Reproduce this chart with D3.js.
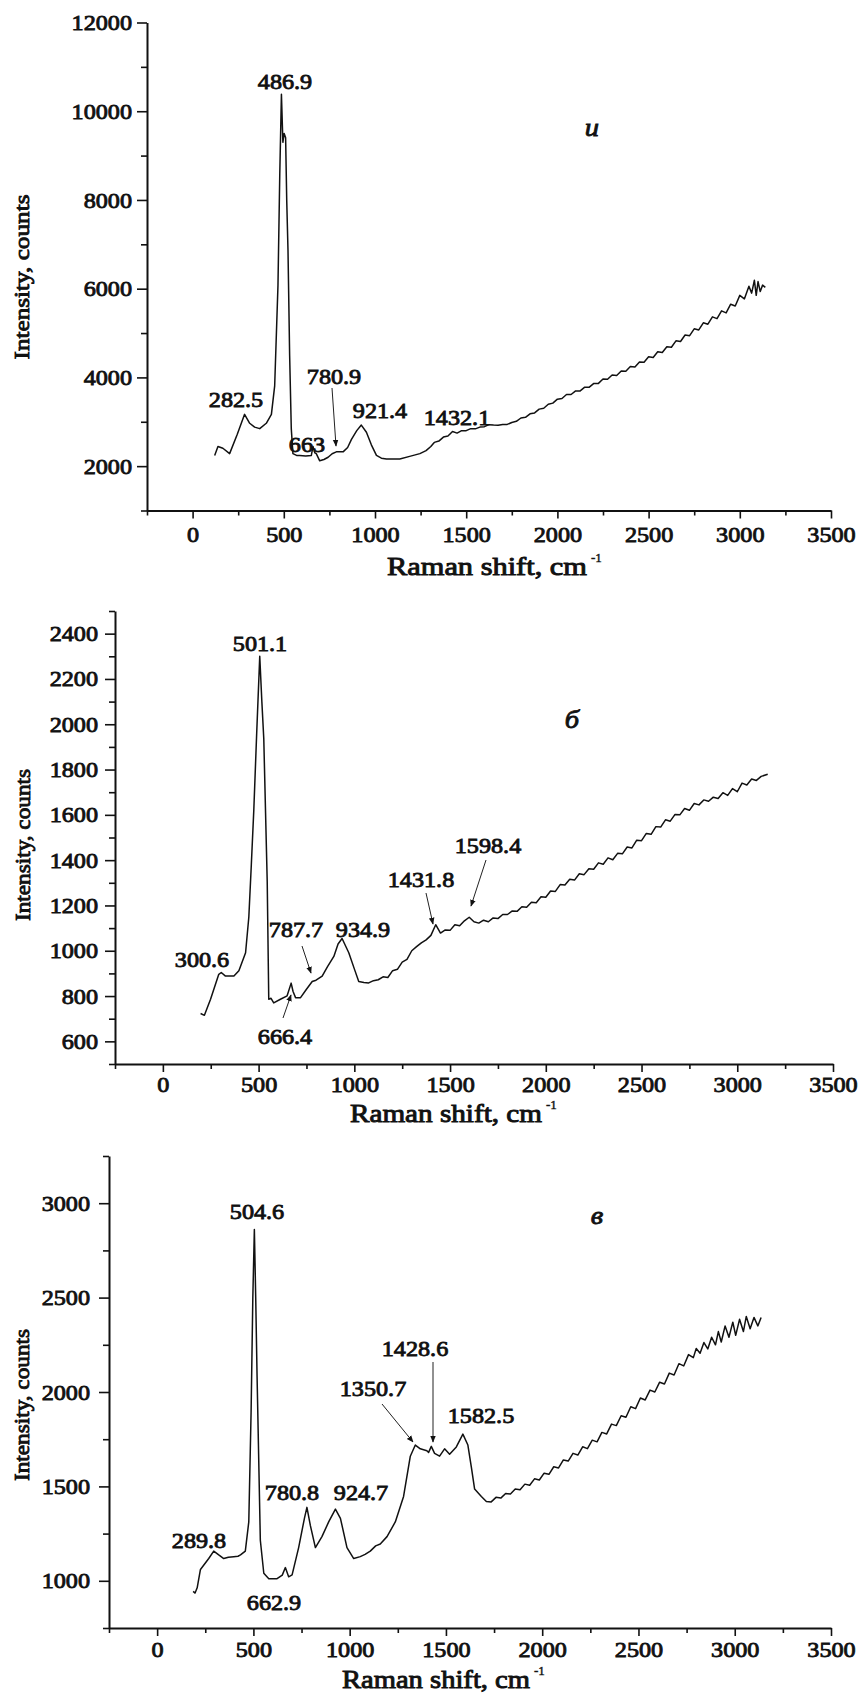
<!DOCTYPE html>
<html>
<head>
<meta charset="utf-8">
<script src="https://cdn.jsdelivr.net/npm/d3@7"></script>
<style>
body { margin: 0; background: #fff; }
</style>
</head>
<body>
<script>
// Raman spectra, three panels (и, б, в)
// each spectrum is [shift cm-1, intensity counts]

var xTicks = [0, 500, 1000, 1500, 2000, 2500, 3000, 3500];
var xMinor = [-250, 250, 750, 1250, 1750, 2250, 2750, 3250];

var yTicksA = [2000, 4000, 6000, 8000, 10000, 12000];
var yMinorA = [1000, 3000, 5000, 7000, 9000, 11000];
var yTicksB = [600, 800, 1000, 1200, 1400, 1600, 1800, 2000, 2200, 2400];
var yMinorB = [500, 700, 900, 1100, 1300, 1500, 1700, 1900, 2100, 2300, 2500];
var yTicksC = [1000, 1500, 2000, 2500, 3000];
var yMinorC = [750, 1250, 1750, 2250, 2750, 3250];

var peaksA = ["486.9", "282.5", "780.9", "921.4", "663", "1432.1"];
var peaksB = ["501.1", "300.6", "787.7", "934.9", "666.4", "1431.8", "1598.4"];
var peaksC = ["504.6", "289.8", "662.9", "780.8", "924.7", "1350.7", "1428.6", "1582.5"];

var spectrumA = [
  [121,2241],[139,2443],[166,2403],[203,2282],[245,2720],[285,3167],[313,2966],[340,2880],
  [368,2845],[404,2966],[432,3167],[450,3811],[468,6065],[478,8600],[487,10380],[495,9300],
  [502,9500],[510,9400],[516,8000],[523,6870],[532,4500],[541,2845],[550,2282],[570,2241],
  [587,2241],[620,2230],[651,2241],[660,2443],[670,2300],[678,2282],[697,2120],[720,2150],
  [743,2200],[765,2280],[788,2322],[825,2322],[850,2420],[871,2604],[900,2800],[925,2925],
  [953,2765],[980,2480],[1008,2241],[1035,2180],[1063,2161],[1100,2160],[1136,2161],[1190,2220],
  [1246,2282],[1280,2350],[1306,2443],
  [1325,2535],[1350,2565],[1375,2655],[1400,2680],[1425,2780],[1450,2745],[1475,2800],[1500,2800],
  [1525,2845],[1550,2840],[1575,2880],[1600,2890],[1625,2935],[1650,2925],[1675,2920],[1700,2940],
  [1725,2940],[1750,2985],[1775,3010],[1800,3085],[1825,3100],[1850,3180],[1875,3200],[1900,3285],
  [1925,3305],[1950,3395],[1975,3420],[2000,3510],[2025,3525],[2050,3615],[2075,3615],[2100,3695],
  [2125,3695],[2150,3780],[2175,3780],[2200,3865],[2225,3865],[2250,3965],[2275,3960],[2300,4055],
  [2325,4045],[2350,4145],[2375,4140],[2400,4245],[2425,4235],[2450,4350],[2475,4340],[2500,4465],
  [2525,4450],[2550,4580],[2575,4560],[2600,4690],[2625,4680],[2650,4825],[2675,4810],[2700,4955],
  [2725,4940],[2750,5095],[2775,5070],[2800,5230],[2825,5200],[2850,5365],[2875,5325],[2900,5500],
  [2925,5455],[2950,5650],[2975,5610],[3000,5850],[3025,5770],[3050,6055],[3065,5900],[3080,6190],
  [3090,5850],[3100,6160],[3112,5935],[3125,6080],[3140,6030]
];

var spectrumB = [
  [197,723],[217,715],[249,786],[292,896],[305,904],[327,888],[371,888],[397,912],
  [432,991],[449,1149],[462,1380],[475,1622],[490,1960],[506,2300],[517,2100],[527,1937],
  [545,1306],[553,786],[565,790],[579,770],[614,786],[649,801],[670,857],[680,820],
  [693,793],[719,793],[750,830],[780,864],[800,870],[832,888],[860,930],[893,975],
  [915,1030],[936,1054],[971,991],[1000,920],[1023,864],
  [1050,860],[1075,858],[1100,868],[1125,872],[1150,885],[1175,882],[1200,912],[1225,918],
  [1250,950],[1275,962],[1300,1000],[1325,1018],[1350,1035],[1375,1048],[1400,1068],[1425,1115],
  [1450,1078],[1475,1092],[1500,1090],[1525,1115],[1550,1110],[1575,1132],[1600,1148],[1625,1128],
  [1650,1122],[1675,1135],[1700,1128],[1725,1145],[1750,1142],[1775,1160],[1800,1160],[1825,1176],
  [1850,1174],[1875,1194],[1900,1192],[1925,1214],[1950,1212],[1975,1238],[2000,1236],[2025,1264],
  [2050,1262],[2075,1292],[2100,1290],[2125,1316],[2150,1312],[2175,1340],[2200,1336],[2225,1362],
  [2250,1360],[2275,1388],[2300,1382],[2325,1410],[2350,1402],[2375,1430],[2400,1428],[2425,1458],
  [2450,1454],[2475,1488],[2500,1486],[2525,1518],[2550,1514],[2575,1548],[2600,1546],[2625,1578],
  [2650,1572],[2675,1602],[2700,1600],[2725,1628],[2750,1620],[2775,1650],[2800,1644],[2825,1666],
  [2850,1660],[2875,1678],[2900,1672],[2925,1698],[2950,1686],[2975,1716],[3000,1702],[3025,1740],
  [3050,1732],[3075,1758],[3100,1752],[3125,1770],[3159,1779]
];

var spectrumC = [
  [187,944],[197,935],[208,963],[225,1060],[268,1118],[294,1157],[320,1137],[346,1118],
  [370,1125],[398,1128],[420,1130],[433,1137],[458,1157],[476,1312],[488,1893],[497,2500],
  [505,2861],[512,2500],[519,2087],[536,1215],[554,1040],[580,1011],[623,1011],[650,1030],
  [666,1070],[683,1021],[701,1031],[735,1176],[765,1331],[778,1389],[796,1292],[822,1176],
  [856,1234],[891,1312],[926,1380],[952,1331],[986,1176],[1021,1118],[1055,1128],[1080,1140],
  [1107,1157],[1135,1185],[1159,1195],[1194,1234],[1237,1312],[1280,1447],[1315,1660],[1341,1719],
  [1367,1699],[1401,1689],[1410,1680],[1424,1712],[1441,1675],[1467,1660],[1493,1699],[1519,1670],
  [1554,1709],[1588,1777],[1614,1719],[1632,1602],[1649,1486],[1684,1447],[1710,1420],
  [1735,1418],[1760,1442],[1785,1438],[1810,1462],[1835,1460],[1860,1486],[1885,1482],[1910,1512],
  [1935,1506],[1960,1540],[1985,1534],[2010,1570],[2035,1564],[2060,1604],[2085,1598],[2110,1640],
  [2135,1634],[2160,1675],[2185,1666],[2210,1710],[2235,1700],[2260,1745],[2285,1736],[2310,1786],
  [2335,1778],[2360,1830],[2385,1822],[2410,1874],[2435,1866],[2460,1922],[2485,1912],[2510,1968],
  [2535,1958],[2560,2010],[2585,2000],[2610,2052],[2635,2042],[2660,2100],[2685,2090],[2710,2150],
  [2735,2138],[2760,2198],[2785,2182],[2800,2230],[2820,2205],[2840,2262],[2860,2228],[2880,2290],
  [2900,2250],[2915,2320],[2930,2265],[2950,2350],[2970,2290],[2990,2370],[3005,2300],[3025,2385],
  [3045,2320],[3060,2400],[3080,2335],[3100,2395],[3120,2350],[3137,2395]
];

// no bold face of the serif is installed, so regular glyphs get a thin stroke
var FONT = "Liberation Serif";

var svg = d3.select("body").append("svg")
  .attr("width", 862)
  .attr("height", 1693)
  .attr("font-family", FONT)
  .attr("font-weight", "normal");

svg.append("defs").append("marker")
  .attr("id", "head")
  .attr("viewBox", "0 0 10 10")
  .attr("refX", 9).attr("refY", 5)
  .attr("markerWidth", 7).attr("markerHeight", 7)
  .attr("markerUnits", "userSpaceOnUse")
  .attr("orient", "auto")
  .append("path").attr("d", "M0,1 L10,5 L0,9 Z").attr("fill", "#111");

var stretch = 1.1;

function heavy(sel, w) {
  return sel.attr("fill", "#111").attr("stroke", "#111").attr("stroke-width", w);
}

function label(g, x, y, txt, size, italic) {
  var t = g.append("text")
    .attr("transform", "translate(" + x + "," + y + ") scale(" + stretch + ",1)")
    .attr("text-anchor", "middle")
    .attr("font-size", size)
    .text(txt);
  heavy(t, 0.85);
  if (italic) t.attr("font-style", "italic");
  return t;
}

function drawPanel(p) {
  var g = svg.append("g");
  var x = d3.scaleLinear().domain([-250, 3500]).range(p.xr);
  var y = d3.scaleLinear().domain(p.yd).range(p.yr);

  // x axis, major + minor
  var gx = g.append("g").attr("transform", "translate(0," + p.yr[0] + ")");
  gx.call(d3.axisBottom(x).tickValues(xTicks).tickSize(8).tickSizeOuter(0).tickFormat(d3.format("d")));
  gx.append("g").call(d3.axisBottom(x).tickValues(xMinor).tickSize(5).tickSizeOuter(0).tickFormat(""))
    .select(".domain").remove();
  gx.selectAll("text")
    .attr("y", null).attr("dy", null)
    .attr("transform", "translate(0," + p.xlab + ") scale(" + stretch + ",1)");

  // y axis
  var gy = g.append("g").attr("transform", "translate(" + p.xr[0] + ",0)");
  gy.call(d3.axisLeft(y).tickValues(p.yt).tickSize(10).tickSizeOuter(0).tickFormat(d3.format("d")));
  gy.append("g").call(d3.axisLeft(y).tickValues(p.ym).tickSize(6).tickSizeOuter(0).tickFormat(""))
    .select(".domain").remove();
  gy.selectAll("text")
    .attr("x", null)
    .attr("transform", "translate(" + (-p.ylab) + ",0) scale(" + stretch + ",1)");

  [gx, gy].forEach(function (a) {
    a.attr("font-family", FONT).attr("font-size", 22);
  });
  g.selectAll(".domain").attr("stroke-width", 2).attr("stroke", "#111");
  g.selectAll(".tick line").attr("stroke-width", 1.6).attr("stroke", "#111");
  heavy(g.selectAll(".tick text"), 0.85);

  // spectrum
  g.append("path")
    .datum(p.data)
    .attr("fill", "none")
    .attr("stroke", "#111")
    .attr("stroke-width", 1.5)
    .attr("stroke-linejoin", "round")
    .attr("d", d3.line().x(function (d) { return x(d[0]); }).y(function (d) { return y(d[1]); }));

  // peak labels
  p.peaks.forEach(function (s, i) {
    label(g, p.peakPos[i][0], p.peakPos[i][1], s, 22);
  });

  // arrows
  p.arrows.forEach(function (a) {
    g.append("line")
      .attr("x1", a[0]).attr("y1", a[1]).attr("x2", a[2]).attr("y2", a[3])
      .attr("stroke", "#222").attr("stroke-width", 1)
      .attr("marker-end", "url(#head)");
  });

  // axis titles
  heavy(g.append("text")
    .attr("x", p.xTitle[0]).attr("y", p.xTitle[1])
    .attr("font-size", 25)
    .attr("textLength", p.xTitle[2])
    .attr("lengthAdjust", "spacingAndGlyphs")
    .text("Raman shift, cm"), 0.9);
  heavy(g.append("text")
    .attr("x", p.xTitle[0] + p.xTitle[2] + 4).attr("y", p.xTitle[1] - 13)
    .attr("font-size", 13)
    .text("-1"), 0.4);

  heavy(g.append("text")
    .attr("transform", "translate(" + p.yTitle[0] + "," + p.yTitle[1] + ") rotate(-90)")
    .attr("text-anchor", "middle")
    .attr("font-size", 22)
    .attr("textLength", p.yTitle[2])
    .attr("lengthAdjust", "spacingAndGlyphs")
    .text("Intensity, counts"), 0.85);

  // panel letter
  label(g, p.letter[1], p.letter[2], p.letter[0], 26, true);
}

drawPanel({
  xr: [147, 831], yd: [1000, 12000], yr: [510.5, 22.5],
  yt: yTicksA, ym: yMinorA, xlab: 31, ylab: 15,
  data: spectrumA,
  peaks: peaksA,
  peakPos: [[285, 89], [236, 407], [334, 384], [380, 418], [307, 452], [457, 425]],
  arrows: [[332, 388, 336, 446]],
  xTitle: [387, 575, 200], yTitle: [29, 277, 165],
  letter: ["и", 592, 136]
});

drawPanel({
  xr: [115, 833], yd: [500, 2500], yr: [1064, 611],
  yt: yTicksB, ym: yMinorB, xlab: 28, ylab: 17,
  data: spectrumB,
  peaks: peaksB,
  peakPos: [[260, 651], [202, 967], [296, 937], [363, 937], [285, 1044], [421, 887], [488, 853]],
  arrows: [[283, 1018, 291, 995], [302, 946, 311, 973], [426, 893, 433, 924], [486, 860, 471, 906]],
  xTitle: [350, 1122, 192], yTitle: [30, 845, 152],
  letter: ["б", 572, 728]
});

drawPanel({
  xr: [109, 831], yd: [750, 3250], yr: [1628, 1156],
  yt: yTicksC, ym: yMinorC, xlab: 29, ylab: 19,
  data: spectrumC,
  peaks: peaksC,
  peakPos: [[257, 1219], [199, 1548], [274, 1610], [292, 1500], [361, 1500], [373, 1396], [415, 1356], [481, 1423]],
  arrows: [[382, 1404, 413, 1442], [433, 1362, 433, 1442]],
  xTitle: [342, 1688, 188], yTitle: [29, 1405, 152],
  letter: ["в", 597, 1224]
});
</script>
</body>
</html>
